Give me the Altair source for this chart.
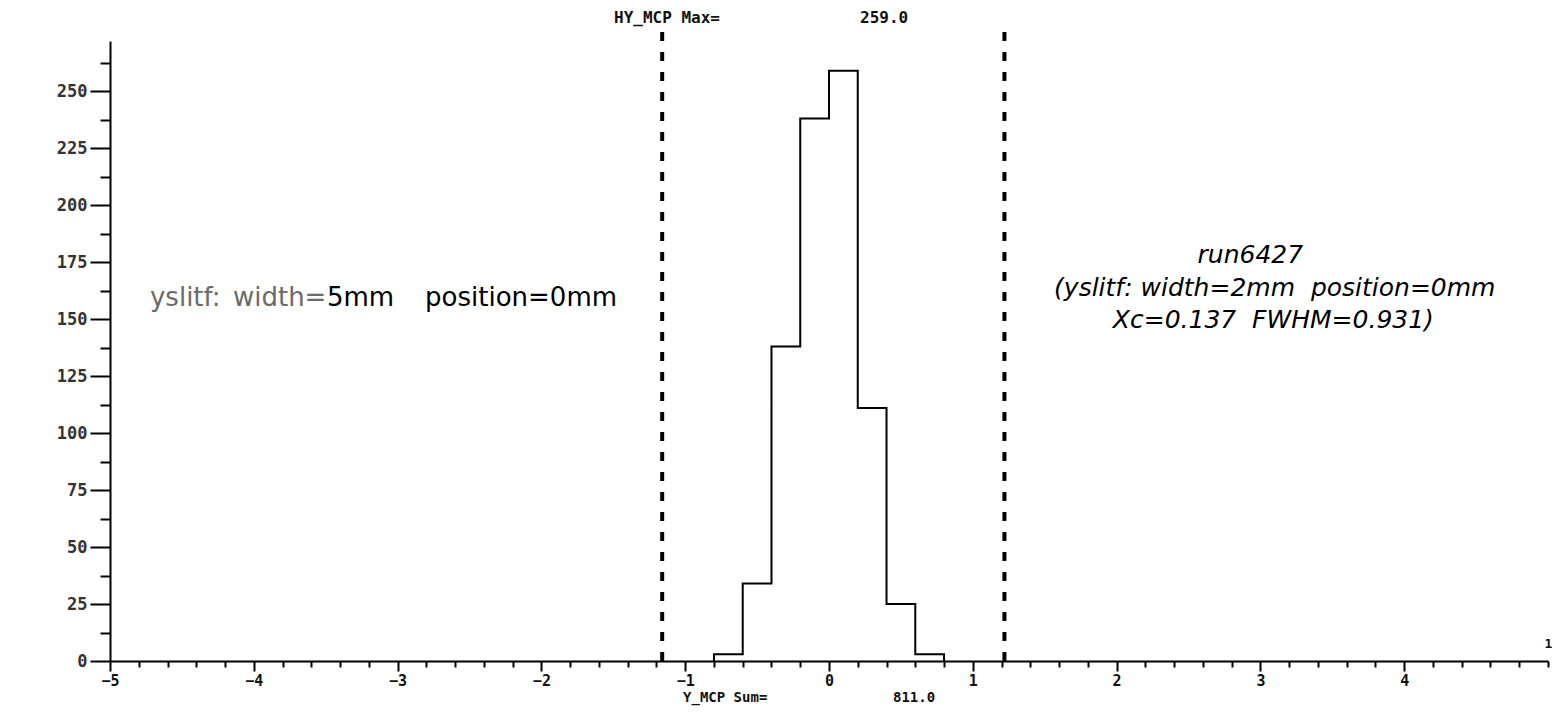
import altair as alt
import pandas as pd
import numpy as np

# ---- data ----
BIN_EDGES = [-0.8, -0.6, -0.4, -0.2, 0.0, 0.2, 0.4, 0.6, 0.8]
BIN_COUNTS = [3, 34, 138, 238, 259, 111, 25, 3]
CUT_X = [-1.16, 1.22]

X_MAJOR = [-5, -4, -3, -2, -1, 0, 1, 2, 3, 4]
X_MINOR = [v for v in np.round(np.arange(-5, 5.0001, 0.2), 1).tolist() if abs(v - round(v)) > 1e-6] + [5.0]
Y_MAJOR = [0, 25, 50, 75, 100, 125, 150, 175, 200, 225, 250]
Y_MINOR = [12.5, 37.5, 62.5, 87.5, 112.5, 137.5, 162.5, 187.5, 212.5, 237.5, 262.5]

# annotation texts (data coordinates)
MONO_TEXT = ["HY_MCP Max=", "259.0", "Y_MCP Sum=", "811.0"]
MONO_X = [-1.495, 0.216, -1.015, 0.445]
MONO_Y = [282.1, 282.1, -16.4, -16.4]
MONO_SIZE = [16, 16, 14, 14]

END_TEXT = ["1"]
END_X = [5.03]
END_Y = [7.5]

LEFT_TEXT = ["yslitf:", "width=", "5mm", "position=0mm"]
LEFT_X = [-4.722, -4.145, -3.491, -2.809]
LEFT_Y = [159.3, 159.3, 159.3, 159.3]
LEFT_COLOR = ["#6a6a6a", "#6a6a6a", "#000000", "#000000"]

RIGHT_TEXT = ["run6427", "(yslitf: width=2mm\u00a0\u00a0position=0mm", "Xc=0.137\u00a0\u00a0FWHM=0.931)"]
RIGHT_X = [2.93, 3.10, 3.09]
RIGHT_Y = [178.1, 163.6, 149.6]

# ---- tables ----
step_x = [BIN_EDGES[0]] + BIN_EDGES
step_y = [0] + BIN_COUNTS + [0]
hist = pd.DataFrame({"x": step_x, "y": step_y, "i": list(range(len(step_x)))})
cuts = pd.DataFrame({"x": CUT_X, "top": [276, 276], "bot": [0, 0]})
mono = pd.DataFrame({"x": MONO_X, "y": MONO_Y, "t": MONO_TEXT, "s": MONO_SIZE})
endlab = pd.DataFrame({"x": END_X, "y": END_Y, "t": END_TEXT})
left = pd.DataFrame({"x": LEFT_X, "y": LEFT_Y, "t": LEFT_TEXT, "c": LEFT_COLOR})
right = pd.DataFrame({"x": RIGHT_X, "y": RIGHT_Y, "t": RIGHT_TEXT})

XS = alt.Scale(domain=[-5, 5], nice=False, zero=False)
YS = alt.Scale(domain=[0, 272], nice=False, zero=False)
MONO = "DejaVu Sans Mono"

x_major_axis = alt.Axis(orient="bottom", values=X_MAJOR, tickSize=10, tickWidth=2, tickColor="black",
                        domain=False, grid=False, labelFont=MONO, labelFontWeight="bold", labelFontSize=15,
                        labelColor="#111", labelPadding=2, title=None, labelFlush=False, format="d")
x_minor_axis = alt.Axis(orient="bottom", values=X_MINOR, tickSize=6, tickWidth=2, tickColor="black",
                        domain=True, domainColor="black", domainWidth=2, grid=False, labels=False, title=None)
y_major_axis = alt.Axis(orient="left", values=Y_MAJOR, tickSize=20, tickWidth=2, tickColor="black",
                        domain=False, grid=False, labelFont=MONO, labelFontWeight="bold", labelFontSize=17,
                        labelColor="#333", labelPadding=3, title=None, labelFlush=False, format="d")
y_minor_axis = alt.Axis(orient="left", values=Y_MINOR, tickSize=10, tickWidth=2, tickColor="black",
                        domain=True, domainColor="black", domainWidth=2, grid=False, labels=False, title=None)

hist_layer = alt.Chart(hist).mark_line(interpolate="step-after", color="black", strokeWidth=2).encode(
    x=alt.X("x:Q", scale=XS, axis=x_major_axis),
    y=alt.Y("y:Q", scale=YS, axis=y_major_axis),
    order="i:Q",
)

cut_layer = alt.Chart(cuts).mark_rule(color="black", strokeWidth=4, strokeDash=[9, 11], clip=False).encode(
    x=alt.X("x:Q", scale=XS, axis=x_minor_axis),
    y=alt.Y("top:Q", scale=YS, axis=y_minor_axis),
    y2="bot:Q",
)

mono_layer = alt.Chart(mono).mark_text(font=MONO, fontWeight="bold", align="left", baseline="middle",
                                       color="#111").encode(
    x=alt.X("x:Q", scale=XS, axis=None),
    y=alt.Y("y:Q", scale=YS, axis=None),
    text="t:N",
    size=alt.Size("s:Q", scale=None, legend=None),
)

end_layer = alt.Chart(endlab).mark_text(font=MONO, fontWeight="bold", fontSize=13, align="right",
                                        baseline="middle", color="#111").encode(
    x=alt.X("x:Q", scale=XS, axis=None),
    y=alt.Y("y:Q", scale=YS, axis=None),
    text="t:N",
)

left_layer = alt.Chart(left).mark_text(font="DejaVu Sans", fontSize=26, align="left", baseline="middle").encode(
    x=alt.X("x:Q", scale=XS, axis=None),
    y=alt.Y("y:Q", scale=YS, axis=None),
    text="t:N",
    color=alt.Color("c:N", scale=None, legend=None),
)

right_layer = alt.Chart(right).mark_text(font="DejaVu Sans", fontStyle="italic", fontSize=25,
                                         align="center", baseline="middle", color="black").encode(
    x=alt.X("x:Q", scale=XS, axis=None),
    y=alt.Y("y:Q", scale=YS, axis=None),
    text="t:N",
)

chart = alt.layer(hist_layer, cut_layer, mono_layer, end_layer, left_layer, right_layer).resolve_axis(
    x="independent", y="independent"
).properties(
    width=1438, height=620,
    autosize=alt.AutoSizeParams(type="none"),
    padding={"left": 102, "top": 33, "right": 4, "bottom": 46},
    background="white",
).configure_view(strokeWidth=0)

chart.save("out.html", embed_options={"renderer": "svg", "actions": False})
